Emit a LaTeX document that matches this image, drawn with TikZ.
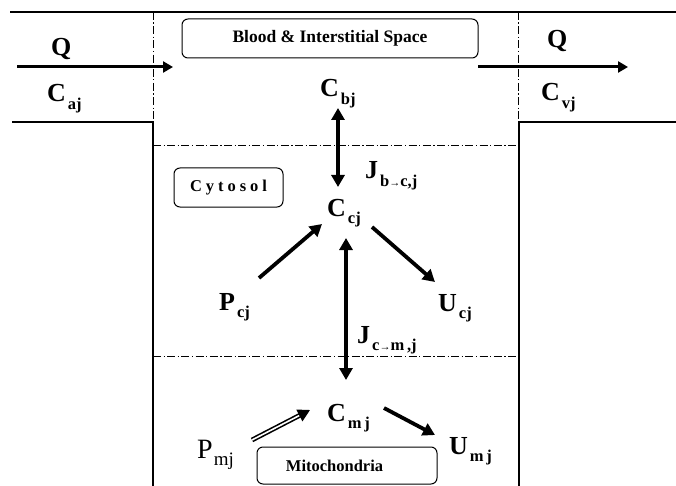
\documentclass[tikz,border=0pt]{standalone}
\usepackage{fontspec}
\setmainfont{Liberation Serif}
\usetikzlibrary{arrows.meta}
\newcommand\symf{\fontsize{26}{26}\selectfont\bfseries}
\newcommand\subf{\fontsize{16.5}{16.5}\selectfont\bfseries}
\newcommand\lsub[1]{\kern2pt\raisebox{-7.5pt}{\subf #1}}
\newcommand\smarr{{\fontsize{11}{11}\selectfont →}}
\begin{document}
\begin{tikzpicture}[x=1pt,y=-1pt,
  wall/.style={line width=2pt},
  ddline/.style={line width=0.9pt, dash pattern=on 8pt off 2.5pt on 1.2pt off 2.5pt},
  sym/.style={anchor=base west, inner sep=0pt, font=\symf},
  lbox/.style={draw, line width=1pt, rounded corners=6pt, inner sep=0pt,
    font=\fontsize{17.5}{17.5}\selectfont\bfseries},
  bigarrow/.style={line width=3.8pt, -{Triangle[length=12pt,width=13pt]}},
  bothway/.style={line width=3.8pt, {Triangle[length=12pt,width=13pt]}-{Triangle[length=12pt,width=13pt]}},
  flowarrow/.style={line width=3pt, -{Triangle[length=10pt,width=11pt]}},
  hollowarrow/.style={double, double distance=1.6pt, line width=1.6pt, -{Triangle[length=12pt,width=13pt]}}
]
\useasboundingbox (0,0) rectangle (676,486);
% walls
\draw[wall] (10,12) -- (676,12);
\draw[wall] (12,122) -- (153,122) -- (153,486);
\draw[wall] (676,122) -- (519,122) -- (519,486);
% dash-dot boundaries
\draw[ddline] (153,12) -- (153,122);
\draw[ddline] (518,12) -- (518,122);
\draw[ddline] (153,145) -- (519,145);
\draw[ddline] (153,356) -- (519,356);
% labelled compartments
\node[lbox, minimum width=296pt, minimum height=39pt] (blood) at (330,38.5) {Blood \& Interstitial Space};
\node[lbox, minimum width=109pt, minimum height=39pt, font=\fontsize{16.5}{16.5}\selectfont\bfseries\addfontfeatures{LetterSpace=24}] (cyto) at (228.5,187.5) {Cytosol};
\node[lbox, minimum width=180pt, minimum height=37pt, font=\fontsize{16.5}{16.5}\selectfont\bfseries] (mito) at (347,465.5) {Mitochondria\kern25pt};
% symbols
\node[sym, font=\fontsize{26}{26}\selectfont\bfseries] (Qin) at (51,56) {Q};
\node[sym] (Caj) at (47,102) {C\lsub{aj}};
\node[sym, font=\fontsize{26}{26}\selectfont\bfseries] (Qout) at (547,48) {Q};
\node[sym] (Cvj) at (541,101) {C\lsub{vj}};
\node[sym] (Cbj) at (320,97) {C\lsub{bj}};
\node[sym] (Ccj) at (327,216) {C\lsub{cj}};
\node[sym] (Jbc) at (365,179) {J\lsub{b\smarr c,j}};
\node[sym] (Pcj) at (219,310) {P\lsub{cj}};
\node[sym] (Ucj) at (438,311) {U\lsub{cj}};
\node[sym] (Jcm) at (357,343) {J\lsub{c\smarr m\,,j}};
\node[sym] (Cmj) at (327,421) {C\lsub{m\,j}};
\node[sym, font=\fontsize{28}{28}\selectfont] (Pmj) at (197,458) {P\kern1pt\raisebox{-7pt}{\fontsize{19}{19}\selectfont mj}};
\node[sym] (Umj) at (449,454) {U\lsub{m\,j}};
% flow in/out
\coordinate (inS) at (17,67);
\coordinate (inE) at (173,67);
\coordinate (outS) at (478,67);
\coordinate (outE) at (628,67);
\draw[flowarrow] (inS) -- (inE);
\draw[flowarrow] (outS) -- (outE);
% exchanges
\draw[bothway] ([shift={(18,11)}]Cbj.base west) -- ([shift={(11,-29)}]Ccj.base west);
\draw[bigarrow] ([shift={(40,-32)}]Pcj.base west) -- ([shift={(-5,8)}]Ccj.base west);
\draw[bigarrow] ([shift={(45,11)}]Ccj.base west) -- ([shift={(-3,-29)}]Ucj.base west);
\draw[bothway] ([shift={(19,22)}]Ccj.base west) -- ([shift={(19,-41)}]Cmj.base west);
\draw[hollowarrow] ([shift={(55,-18)}]Pmj.base west) -- ([shift={(-17,-11)}]Cmj.base west);
\draw[bigarrow] ([shift={(57,-13)}]Cmj.base west) -- ([shift={(-14,-19)}]Umj.base west);
\end{tikzpicture}
\end{document}
